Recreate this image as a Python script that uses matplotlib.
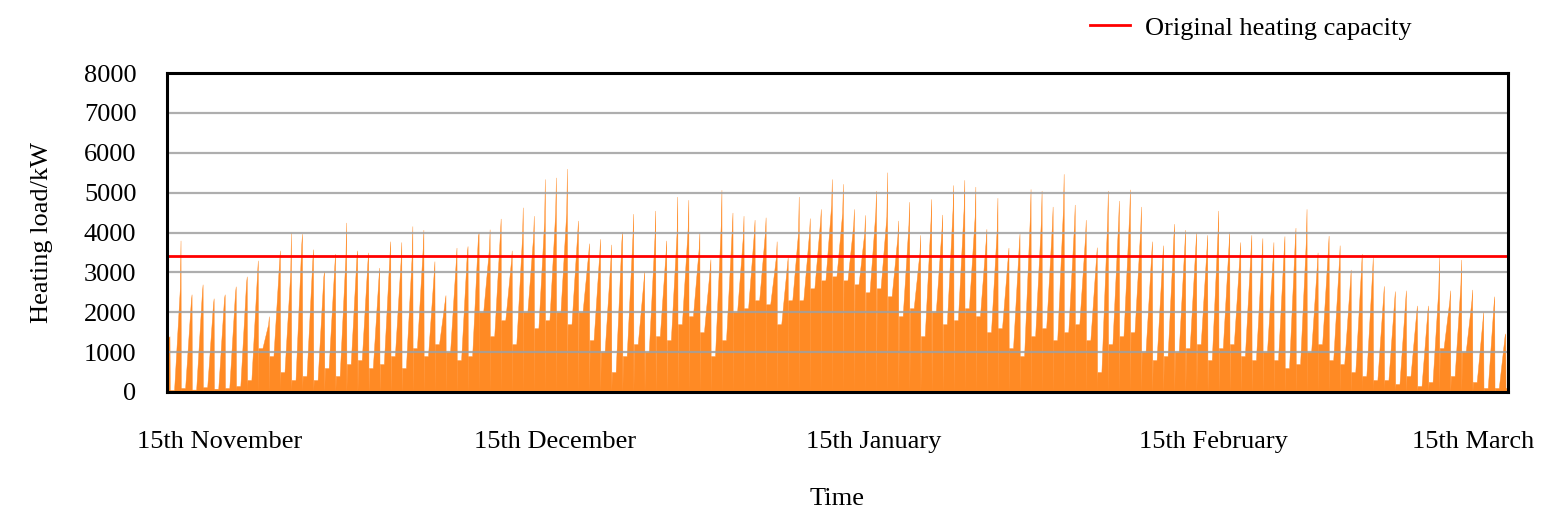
import matplotlib
matplotlib.use("Agg")
import matplotlib.pyplot as plt
import numpy as np

plt.rcParams['font.family'] = ['Liberation Serif', 'DejaVu Serif']

# ---- data (one entry per day) ----
day_peak = [1400, 3800, 2450, 2700, 2350, 2450, 2650, 2900, 3300, 1900,
            3550, 4000, 3970, 3580, 3030, 3470, 4250, 3550, 3500, 3120,
            3780, 3760, 4160, 4070, 3280, 2430, 3620, 3660, 4000, 4080,
            4350, 3550, 4630, 4420, 5340, 5380, 5600, 4300, 3730, 3840,
            3700, 4020, 4470, 3030, 4550, 3800, 4900, 4820, 4000, 3330,
            5070, 4500, 4420, 4320, 4380, 3780, 3380, 4900, 4360, 4590,
            5340, 5220, 4590, 4440, 5050, 5510, 4300, 4770, 3940, 4840,
            4450, 5190, 5320, 5150, 4090, 4870, 3620, 3970, 5090, 5050,
            4650, 5470, 4700, 4320, 3630, 5050, 4800, 5080, 4650, 3780,
            3680, 4220, 4070, 4000, 3940, 4550, 4020, 3760, 3940, 3860,
            3760, 3910, 4120, 4590, 3500, 3920, 3680, 3070, 3470, 3380,
            2660, 2530, 2550, 2170, 2170, 3380, 2550, 3320, 2570, 2010,
            2400, 1470]

day_ramp = [1300, 2600, 2300, 2500, 2200, 2350, 2500, 2750, 3000, 1700,
            3300, 3000, 3700, 3300, 2900, 3200, 3400, 3400, 3300, 2900,
            3500, 3300, 3400, 3600, 3000, 2300, 3300, 3500, 3900, 3600,
            4000, 3300, 3900, 3900, 4300, 4500, 4500, 4000, 3500, 3500,
            3300, 3800, 3900, 2800, 3900, 3500, 4000, 4100, 3600, 3100,
            4200, 4100, 3900, 4000, 4000, 3400, 3200, 4000, 4000, 4300,
            4700, 4500, 4200, 4000, 4500, 4400, 3900, 4200, 3500, 4300,
            4100, 4600, 4600, 4400, 3800, 4100, 3400, 3700, 4400, 4300,
            4200, 4600, 4200, 3900, 3400, 4300, 4300, 4500, 4100, 3500,
            3400, 3900, 3700, 3700, 3600, 4000, 3700, 3500, 3600, 3500,
            3400, 3600, 3800, 3800, 3200, 3600, 3300, 2800, 3100, 3000,
            2400, 2300, 2300, 2000, 2000, 2600, 2300, 2700, 2300, 1800,
            2200, 1400]

day_low = [50, 100, 60, 120, 80, 100, 150, 300, 1100, 900,
           500, 300, 400, 300, 600, 400, 700, 800, 600, 700,
           900, 600, 1100, 900, 1200, 1000, 800, 900, 2000, 1400,
           1800, 1200, 2000, 1600, 1800, 2000, 1700, 2000, 1300, 1000,
           500, 900, 1200, 1000, 1400, 1300, 1700, 1900, 1500, 900,
           1300, 2000, 2100, 2300, 2200, 1700, 2300, 2300, 2600, 2800,
           2900, 2800, 2700, 2500, 2600, 2400, 1900, 2100, 1400, 2000,
           1700, 1800, 2100, 1900, 1500, 1600, 1100, 900, 1400, 1600,
           1300, 1500, 1700, 1300, 500, 1200, 1400, 1500, 1000, 800,
           900, 1000, 1100, 1200, 800, 1100, 1200, 900, 800, 1000,
           800, 600, 700, 1000, 1200, 800, 700, 500, 400, 300,
           300, 200, 400, 150, 250, 1100, 400, 1000, 250, 100,
           100, 100]

capacity = 3400
capacity_label = "Original heating capacity"
x_tick_labels = ["15th November", "15th December", "15th January",
                 "15th February", "15th March"]
x_tick_hours = [110, 838, 1530, 2269, 2834]
y_ticks = [0, 1000, 2000, 3000, 4000, 5000, 6000, 7000, 8000]

# ---- build hourly-position polygon (peak, short drop, base, ramp) ----
xs = [-6.0]
ys = [day_ramp[0]]
for i in range(len(day_peak)):
    t = 24.0 * i
    xs += [t, t + 0.7, t + 1.5, t + 10.0]
    ys += [day_peak[i], 0.0, day_low[i], day_low[i]]
    if i + 1 < len(day_peak):
        xs.append(t + 22.5)
        ys.append(day_ramp[i + 1])
xs.append(24.0 * (len(day_peak) - 1) + 6)
ys.append(day_low[-1])
xs = np.array(xs)
ys = np.array(ys)

W, H = 1544, 524
fs = 19
fig = plt.figure(figsize=(W / 100, H / 100), dpi=100)
ax = fig.add_axes([167 / W, 1 - 392 / H, (1508 - 167) / W, (392 - 73) / H])

ax.fill_between(xs, 0, ys, color='#FF8A24', lw=0.3, edgecolor='#FF8A24', zorder=2)
for yv in y_ticks[1:-1]:
    ax.axhline(yv, color='#a0a0a0', lw=1.6, alpha=0.85, zorder=3)
line, = ax.plot([-10, 3000], [capacity, capacity], color='#FF0000', lw=2.0,
                zorder=4, label=capacity_label)

ax.set_xlim(-5.4, 2910)
ax.set_ylim(0, 8000)
ax.set_yticks(y_ticks)
ax.set_yticklabels([str(v) for v in y_ticks], fontsize=fs)
ax.set_xticks(x_tick_hours)
ax.set_xticklabels(x_tick_labels, fontsize=fs)
ax.tick_params(axis='both', length=0)
ax.tick_params(axis='x', pad=28)
ax.tick_params(axis='y', pad=22)
for s in ax.spines.values():
    s.set_linewidth(2.2)
    s.set_color('black')
    s.set_zorder(5)

ax.set_ylabel("Heating load/kW", fontsize=fs, labelpad=22)
ax.set_xlabel("Time", fontsize=fs, labelpad=25)

fig.legend(handles=[line], labels=[capacity_label],
           loc='center left', bbox_to_anchor=(1090 / W, 1 - 28 / H),
           frameon=False, fontsize=fs, handlelength=1.5, handletextpad=0.6,
           borderpad=0, borderaxespad=0)

fig.savefig("out.png", dpi=100)
